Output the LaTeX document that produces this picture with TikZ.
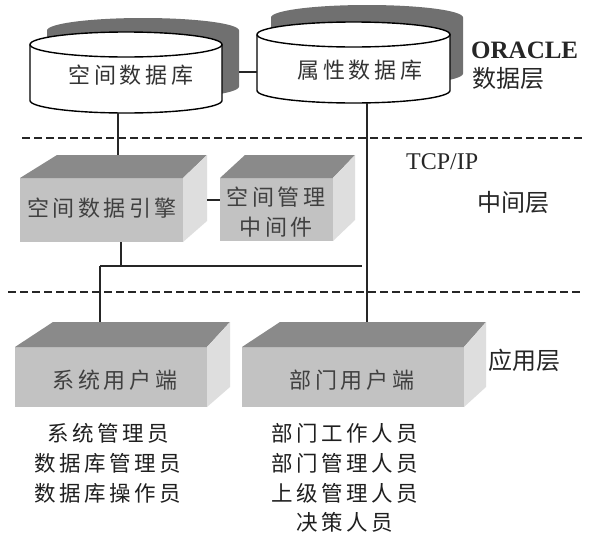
\documentclass[tikz,border=0pt]{standalone}
\usepackage{fontspec}
\setmainfont{Liberation Serif}
\newfontfamily\cjk[LetterSpace=16]{Noto Sans CJK SC}
\newfontfamily\cjkn{Noto Sans CJK SC}
\begin{document}
\begin{tikzpicture}[x=1pt,y=-1pt,
  line/.style={line width=1.4pt,black!85},
  sep/.style={line width=1.8pt,black!85,dash pattern=on 8pt off 4pt},
  cyl/.style={fill=white,draw=black,line width=1.4pt},
  shadowcyl/.style={fill=black!56},
  front/.style={fill=black!24},
  topface/.style={fill=black!46},
  sideface/.style={fill=black!13},
  boxtext/.style={font=\cjk\fontsize{22}{30}\selectfont,text=black!75,align=center,inner sep=0pt},
  listtext/.style={font=\cjk\fontsize{21.5}{31}\selectfont,text=black!88,align=center,inner sep=0pt},
  layertext/.style={font=\cjkn\fontsize{24}{28}\selectfont,text=black!85,anchor=west,inner sep=0pt}]
\useasboundingbox (0,0) rectangle (595,536);
\fill[white] (0,0) rectangle (595,536);

% ---------- separators ----------
\coordinate (s1a) at (22,138); \coordinate (s1b) at (583,138);
\coordinate (s2a) at (8,292);  \coordinate (s2b) at (583,292);
\draw[sep] (s1a) -- (s1b);
\draw[sep] (s2a) -- (s2b);

% ---------- shadow cylinders ----------
\fill[shadowcyl] (47,30.5) -- (47,86.5) arc[start angle=180,end angle=360,x radius=96pt,y radius=12.5pt] -- (239,30.5) arc[start angle=0,end angle=180,x radius=96pt,y radius=12.5pt] -- cycle;
\fill[shadowcyl] (271,17.5) -- (271,73.5) arc[start angle=180,end angle=360,x radius=96pt,y radius=12.5pt] -- (463,17.5) arc[start angle=0,end angle=180,x radius=96pt,y radius=12.5pt] -- cycle;

% ---------- cylinders ----------
\filldraw[cyl] (30,44.5) -- (30,100.5) arc[start angle=180,end angle=360,x radius=96pt,y radius=12.5pt] -- (222,44.5);
\filldraw[cyl] (126,44.5) ellipse[x radius=96pt,y radius=12.5pt];
\filldraw[cyl] (257,34.5) -- (257,90.5) arc[start angle=180,end angle=360,x radius=96.5pt,y radius=12.5pt] -- (450,34.5);
\filldraw[cyl] (353.5,34.5) ellipse[x radius=96.5pt,y radius=12.5pt];
\node[boxtext,text=black!80] (db1) at (131,75) {空间数据库};
\node[boxtext,text=black!80] (db2) at (360,70) {属性数据库};
\coordinate (db1s) at (239,72);
\coordinate (db2w) at (257,72);
\coordinate (db1b) at (118,113);
\coordinate (db2b) at (367,103);

% ---------- middle boxes ----------
\fill[front] (20,178) rectangle (183,242);
\fill[topface] (20,178) -- (183,178) -- (207,155) -- (57,155) -- cycle;
\fill[sideface] (183,178) -- (207,155) -- (207,221) -- (183,242) -- cycle;
\node[boxtext] (eng) at (102,208) {空间数据引擎};
\coordinate (engt) at (118,155);
\coordinate (enge) at (207,200);
\coordinate (engb) at (121,242);

\fill[front] (220,178) rectangle (333,241);
\fill[topface] (220,178) -- (333,178) -- (355,155) -- (245,155) -- cycle;
\fill[sideface] (333,178) -- (355,155) -- (355,220) -- (333,241) -- cycle;
\node[boxtext] (mid) at (276,212) {空间管理\\中间件};
\coordinate (midw) at (220,200);

% ---------- client boxes ----------
\fill[front] (15,347) rectangle (207,407);
\fill[topface] (15,347) -- (207,347) -- (230,322) -- (53,322) -- cycle;
\fill[sideface] (207,347) -- (230,322) -- (230,387) -- (207,407) -- cycle;
\node[boxtext] (sys) at (115,380) {系统用户端};
\coordinate (syst) at (100,322);

\fill[front] (242,347) rectangle (464,407);
\fill[topface] (242,347) -- (464,347) -- (486,322) -- (280,322) -- cycle;
\fill[sideface] (464,347) -- (486,322) -- (486,387) -- (464,407) -- cycle;
\node[boxtext] (dept) at (352,380) {部门用户端};
\coordinate (deptt) at (367,322);

% ---------- connectors ----------
\coordinate (j1) at (121,266);
\coordinate (jl) at (100,266);
\coordinate (jr) at (362,266);
\draw[line] (db1b) -- (engt);
\draw[line] (db1s) -- (db2w);
\draw[line] (enge) -- (midw);
\draw[line] (engb) -- (j1);
\draw[line] (jl) -- (jr);
\draw[line] (jl) -- (syst);
\draw[line] (db2b) -- (deptt);

% ---------- layer labels ----------
\node[font=\bfseries\fontsize{25}{28}\selectfont,anchor=west,inner sep=0pt,text=black!85] (oracle) at (471,50) {ORACLE};
\node[layertext] (datal) at (472,78) {数据层};
\node[font=\fontsize{24}{28}\selectfont,anchor=west,inner sep=0pt,text=black!85] (tcp) at (406,162) {TCP/IP};
\node[layertext] (midl) at (477,202) {中间层};
\node[layertext] (appl) at (488,360) {应用层};

% ---------- user lists ----------
\node[listtext] (u1) at (108,433) {系统管理员};
\node[listtext] (u2) at (108,463) {数据库管理员};
\node[listtext] (u3) at (108,493) {数据库操作员};
\node[listtext] (v1) at (345,433) {部门工作人员};
\node[listtext] (v2) at (345,463) {部门管理人员};
\node[listtext] (v3) at (345,493) {上级管理人员};
\node[listtext] (v4) at (345,522) {决策人员};
\end{tikzpicture}
\end{document}
